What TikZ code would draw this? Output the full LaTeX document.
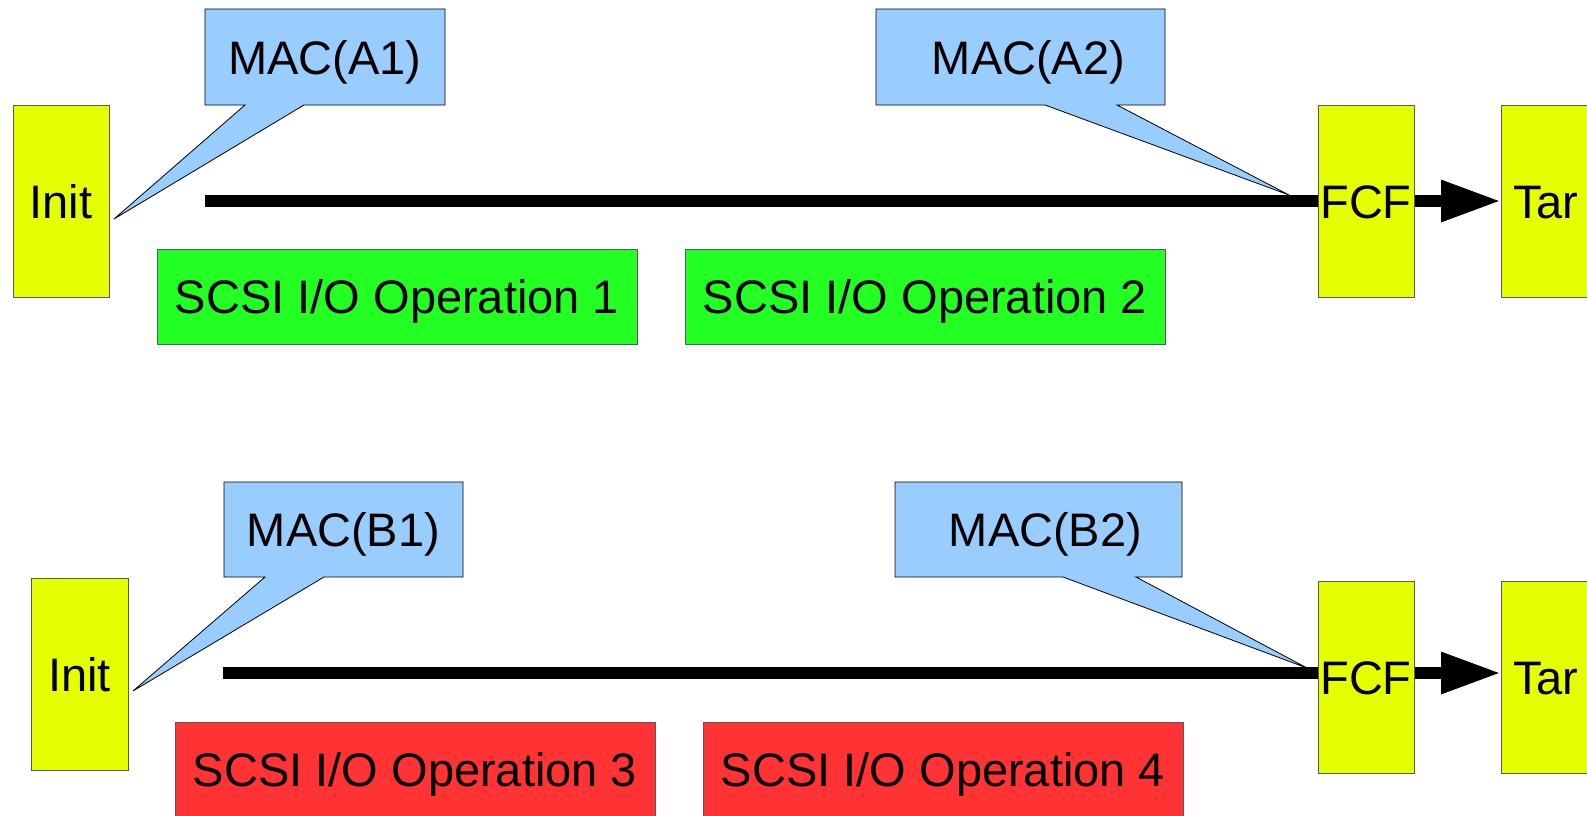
\documentclass[tikz,border=0pt]{standalone}
\usepackage{fontspec}
\setmainfont{Liberation Sans}
\usetikzlibrary{arrows.meta,backgrounds,calc}
\definecolor{unityellow}{HTML}{E6FF00}
\definecolor{bubbleblue}{HTML}{99CCFF}
\definecolor{opgreen}{HTML}{23FF23}
\definecolor{opred}{HTML}{FF3333}
\begin{document}
\begin{tikzpicture}[x=1pt,y=-1pt,
  every node/.style={font=\fontsize{47}{56}\selectfont, inner sep=0pt, outer sep=0pt,
    text height=34pt, text depth=0pt},
  unit/.style={draw=black!65, line width=1pt, fill=unityellow,
    minimum width=96pt, minimum height=192pt, anchor=north west},
  farunit/.style={unit, text width=130pt, inner xsep=12pt, align=left},
  op/.style={draw=black!65, line width=1pt, minimum width=480pt,
    minimum height=95pt, anchor=north west},
  opgood/.style={op, fill=opgreen},
  opbad/.style={op, fill=opred},
  mac/.style={anchor=north west, minimum height=96pt},
  bubble/.style={fill=bubbleblue, draw=black, line width=0.8pt, line join=miter},
  flow/.style={line width=12pt, -{Triangle[length=60pt,width=39pt]}}
]
\useasboundingbox (0,0) rectangle (1587,815);
\clip (0,0) rectangle (1587,815);

% ---------- upper path ----------
\node[unit] (initA) at (13,105) {Init};
\node[unit] (fcfA) at (1318,105) {FCF};
\node[farunit] (tarA) at (1501,105) {Tar};
\node[opgood] (op1) at (157,249) {SCSI I/O Operation 1};
\node[opgood] (op2) at (685,249) {SCSI I/O Operation 2};
\node[mac, minimum width=240pt] (macA1) at (205,9) {MAC(A1)};
\node[mac, minimum width=289pt] (macA2) at (876,9) {\hspace{16pt}MAC(A2)};
\coordinate (sA) at (205,201);
\coordinate (tipA1) at (114,219);
\coordinate (tipA2) at (1289,195);

% ---------- lower path ----------
\node[unit, minimum width=97pt] (initB) at (31,578) {Init};
\node[unit] (fcfB) at (1318,581) {FCF};
\node[farunit] (tarB) at (1501,581) {Tar};
\node[opbad] (op3) at (175,722) {SCSI I/O Operation 3};
\node[opbad] (op4) at (703,722) {SCSI I/O Operation 4};
\node[mac, minimum width=239pt, minimum height=95pt] (macB1) at (224,482) {MAC(B1)};
\node[mac, minimum width=287pt, minimum height=95pt] (macB2) at (895,482) {\hspace{14pt}MAC(B2)};
\coordinate (sB) at (223,673);
\coordinate (tipB1) at (133,691);
\coordinate (tipB2) at (1307,668);

\begin{scope}[on background layer]
  % data flow towards the target, passing behind the FCF box
  \draw[flow] (sA) -- (tarA.west);
  \draw[flow] (sB) -- (sB -| tarB.west);

  % callout bubbles
  \draw[bubble] (macA1.north west) -- (macA1.north east) -- (macA1.south east)
    -- ($(macA1.south west)+(99,0)$) -- (tipA1) -- ($(macA1.south west)+(40,0)$)
    -- (macA1.south west) -- cycle;
  \draw[bubble] (macA2.north west) -- (macA2.north east) -- (macA2.south east)
    -- ($(macA2.south west)+(241,0)$) -- (tipA2) -- ($(macA2.south west)+(169,0)$)
    -- (macA2.south west) -- cycle;
  \draw[bubble] (macB1.north west) -- (macB1.north east) -- (macB1.south east)
    -- ($(macB1.south west)+(100,0)$) -- (tipB1) -- ($(macB1.south west)+(41,0)$)
    -- (macB1.south west) -- cycle;
  \draw[bubble] (macB2.north west) -- (macB2.north east) -- (macB2.south east)
    -- ($(macB2.south west)+(241,0)$) -- (tipB2) -- ($(macB2.south west)+(168,0)$)
    -- (macB2.south west) -- cycle;
\end{scope}
\end{tikzpicture}
\end{document}
